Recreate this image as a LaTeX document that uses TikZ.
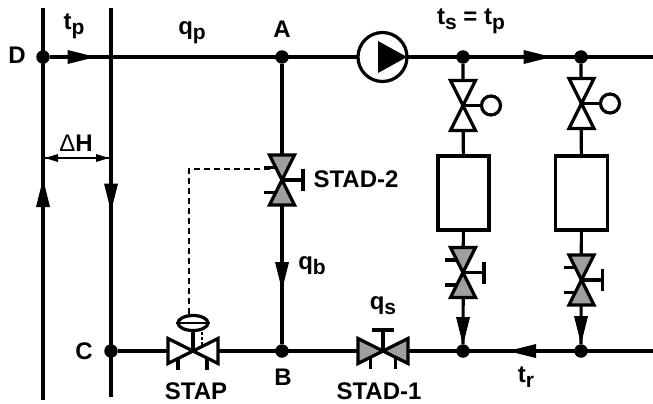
\documentclass[tikz,border=0pt]{standalone}
\usepackage{fontspec}
\usetikzlibrary{shapes.geometric}
\setmainfont{Liberation Sans}
\newcommand{\sbs}[1]{\raisebox{-0.2em}{\fontsize{21}{21}\selectfont\bfseries #1}}
\tikzset{
  x=1pt,y=-1pt,
  pipe/.style={line width=3.2pt},
  dot/.style={circle,fill=black,inner sep=0pt,minimum size=13.5pt},
  lbl/.style={font=\fontsize{24}{26}\selectfont\bfseries,inner sep=0pt,text=black},
  vbody/.style={line width=3.2pt,line join=miter,draw=black},
  pics/flowhead/.style={code={\fill[black] (-14,-7) -- (14,0) -- (-14,7) -- cycle;}},
  pics/smallhead/.style={code={\fill[black] (-13,-4) -- (0,0) -- (-13,4) -- cycle;}},
  pics/valvebody/.style={code={
    \draw[vbody,fill=#1] (0,0) -- (-25,-12.5) -- (-25,12.5) -- cycle;
    \draw[vbody,fill=#1] (0,0) -- (25,-12.5) -- (25,12.5) -- cycle;}},
  pics/adjust/.style={code={
    \draw[pipe] (0,0) -- (0,-21);
    \draw[pipe] (-11,-21) -- (11,-21);
    \draw[pipe] (-12.5,6) -- (-12.5,18);
    \draw[pipe] (12.5,6) -- (12.5,18);}},
}
\begin{document}
\begin{tikzpicture}
\useasboundingbox (0,0) rectangle (653,404);
% junctions
\node[dot] (D) at (43,57) {};
\node[dot] (A) at (282,57) {};
\node[dot] (S1) at (463,57) {};
\node[dot] (S2) at (581,57) {};
\node[dot] (C) at (111,351) {};
\node[dot] (B) at (282,351) {};
\node[dot] (R1) at (463,351) {};
\node[dot] (R2) at (581,351) {};
\coordinate (Ltop) at (43,8);
\coordinate (Lbot) at (43,400);
\coordinate (Rtop) at (111,8);
\coordinate (Rbot) at (111,397);
\coordinate (Tend) at (653,57);
\coordinate (Bend) at (653,351);
% heat exchanger boxes
\node[draw=black,line width=3.2pt,fill=white,minimum width=51pt,minimum height=74pt,inner sep=0pt] (H1) at (463.5,193) {};
\node[draw=black,line width=3.2pt,fill=white,minimum width=52pt,minimum height=74pt,inner sep=0pt] (H2) at (581.5,193) {};
% pipes
\draw[pipe] (Ltop) -- (Lbot);
\draw[pipe] (Rtop) -- (Rbot);
\draw[pipe] (D) -- (Tend);
\draw[pipe] (C) -- (Bend);
\draw[pipe] (A) -- (B);
\draw[pipe] (S1) -- (H1);
\draw[pipe] (S2) -- (H2);
\draw[pipe] (H1) -- (R1);
\draw[pipe] (H2) -- (R2);
% pump
\node[circle,draw=black,line width=3.2pt,fill=white,minimum size=49pt,inner sep=0pt] (P) at (382.5,57) {};
\fill[black] (378,41) -- (407,57) -- (378,73) -- cycle;
% flow arrows
\pic at (81.5,57) {flowhead};
\pic at (537.5,57) {flowhead};
\pic[rotate=180] at (522,351) {flowhead};
\pic[rotate=90] at (43,193) {flowhead};
\pic[rotate=-90] at (111,197.5) {flowhead};
\pic[rotate=-90] at (282,276) {flowhead};
\pic[rotate=-90] at (463,331) {flowhead};
\pic[rotate=-90] at (581,330) {flowhead};
% Delta H
\coordinate (dl) at (45,158);
\coordinate (dr) at (109,158);
\draw[line width=2pt] (dl) -- (dr);
\pic[rotate=180] at (dl) {smallhead};
\pic at (dr) {smallhead};
% dashed signal line
\coordinate (sa) at (270,169);
\coordinate (sb) at (189,169);
\coordinate (sc) at (189,316);
\draw[line width=1.3pt,dash pattern=on 6pt off 4pt] (sa) -- (sb) -- (sc);
% STAD-2
\pic[rotate=-90] at (282,180) {adjust};
\pic[rotate=-90] at (282,180) {valvebody={gray!75}};
% STAD-1
\pic at (383,351) {adjust};
\pic at (383,351) {valvebody={gray!75}};
% return valves
\pic[rotate=-90] at (463,272.5) {adjust};
\pic[rotate=-90] at (463,272.5) {valvebody={gray!75}};
\pic[rotate=-90] at (581.5,280) {adjust};
\pic[rotate=-90] at (581.5,280) {valvebody={gray!75}};
% supply valves
\coordinate (V1) at (463,105.5);
\coordinate (V2) at (581.5,103.5);
\node[circle,draw=black,line width=3.2pt,fill=white,minimum size=19pt,inner sep=0pt] (K1) at (491,105.5) {};
\node[circle,draw=black,line width=3.2pt,fill=white,minimum size=19pt,inner sep=0pt] (K2) at (610,103.5) {};
\draw[pipe] (V1) -- (K1);
\draw[pipe] (V2) -- (K2);
\pic[rotate=-90] at (V1) {valvebody=white};
\pic[rotate=-90] at (V2) {valvebody=white};
% STAP
\coordinate (V3) at (193,351);
\node[ellipse,draw=black,line width=3.2pt,fill=white,minimum width=30pt,minimum height=15pt,inner sep=0pt] (E) at (193,323) {};
\draw[pipe] (V3) -- (E);
\draw[line width=1.3pt] (E.west) -- (E.east);
\coordinate (d1) at (202,332);
\coordinate (d2) at (202,347);
\draw[line width=1.3pt,dash pattern=on 3pt off 2pt] (d1) -- (d2);
\pic at (V3) {valvebody=white};
\coordinate (t1a) at (178,358);
\coordinate (t1b) at (178,370);
\coordinate (t2a) at (207,358);
\coordinate (t2b) at (207,370);
\draw[pipe] (t1a) -- (t1b);
\draw[pipe] (t2a) -- (t2b);
% labels
\node[lbl] (lD) at (17,55) {D};
\node[lbl] (lA) at (282,29) {A};
\node[lbl] (lB) at (283,377) {B};
\node[lbl] (lC) at (84,351) {C};
\node[lbl] (ltp) at (74,26) {t\sbs{p}};
\node[lbl] (lqp) at (192,33) {q\sbs{p}};
\node[lbl] (lts) at (471,21) {t\sbs{s} = t\sbs{p}};
\node[lbl] (lqb) at (312,266) {q\sbs{b}};
\node[lbl] (lqs) at (383,306) {q\sbs{s}};
\node[lbl] (ltr) at (526,377) {t\sbs{r}};
\node[lbl] (ls2) at (356,179) {STAD-2};
\node[lbl] (ls1) at (379,391) {STAD-1};
\node[lbl] (lst) at (196,391.5) {STAP};
\node[lbl] (ldh) at (76,143) {{\mdseries\symbol{"0394}}H};
\end{tikzpicture}
\end{document}
